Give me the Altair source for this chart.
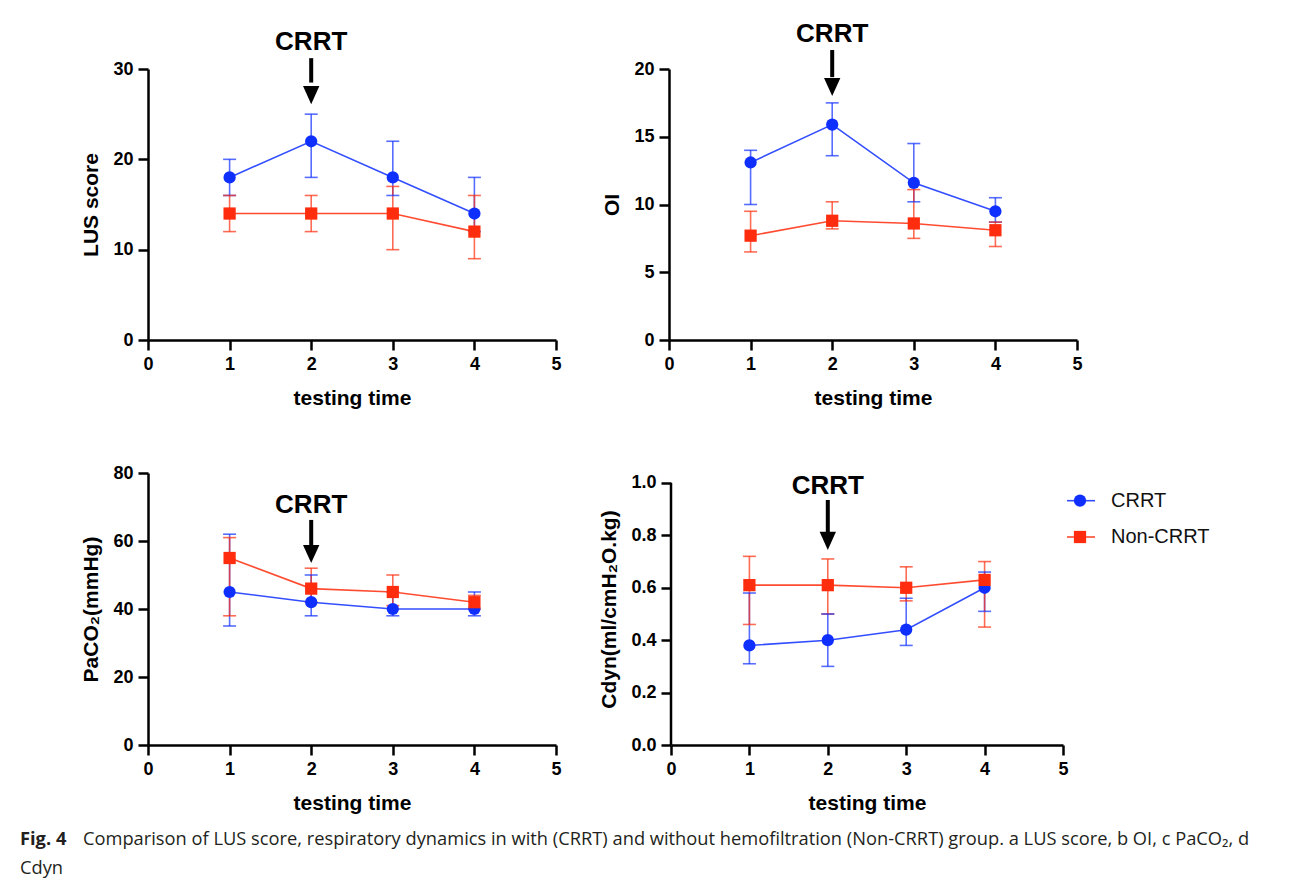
import altair as alt
import pandas as pd

times = [1, 2, 3, 4]
groups = ["CRRT", "Non-CRRT"]
BLUE = "#0f2fff"
RED = "#ff2d0d"

# a  LUS score
lus_crrt = [18, 22, 18, 14]
lus_crrt_lo = [16, 18, 16, 12]
lus_crrt_hi = [20, 25, 22, 18]
lus_non = [14, 14, 14, 12]
lus_non_lo = [12, 12, 10, 9]
lus_non_hi = [16, 16, 17, 16]

# b  OI
oi_crrt = [13.1, 15.9, 11.6, 9.5]
oi_crrt_lo = [10.0, 13.6, 10.2, 8.7]
oi_crrt_hi = [14.0, 17.5, 14.5, 10.5]
oi_non = [7.7, 8.8, 8.6, 8.1]
oi_non_lo = [6.5, 8.2, 7.5, 6.9]
oi_non_hi = [9.5, 10.2, 11.1, 8.7]

# c  PaCO2
pa_crrt = [45, 42, 40, 40]
pa_crrt_lo = [35, 38, 38, 38]
pa_crrt_hi = [62, 50, 45, 45]
pa_non = [55, 46, 45, 42]
pa_non_lo = [38, 42, 41, 40]
pa_non_hi = [61, 52, 50, 44]

# d  Cdyn
cd_crrt = [0.38, 0.40, 0.44, 0.60]
cd_crrt_lo = [0.31, 0.30, 0.38, 0.51]
cd_crrt_hi = [0.58, 0.50, 0.56, 0.66]
cd_non = [0.61, 0.61, 0.60, 0.63]
cd_non_lo = [0.46, 0.50, 0.55, 0.45]
cd_non_hi = [0.72, 0.71, 0.68, 0.70]

caption_bold = "Fig. 4"
caption_line1 = ("Comparison of LUS score, respiratory dynamics in with (CRRT) and without hemofiltration "
                 "(Non-CRRT) group. a LUS score, b OI, c PaCO₂, d")
caption_line2 = "Cdyn"

FONT = "Liberation Sans"


def make_df(c, clo, chi, n, nlo, nhi):
    rows = []
    for g, m, lo, hi in [("CRRT", c, clo, chi), ("Non-CRRT", n, nlo, nhi)]:
        for t, a, b, d in zip(times, m, lo, hi):
            rows.append({"time": t, "group": g, "mean": a, "lo": b, "hi": d})
    return pd.DataFrame(rows)


color = alt.Color("group:N", scale=alt.Scale(domain=groups, range=[BLUE, RED]), legend=None)
shape = alt.Shape("group:N", scale=alt.Scale(domain=groups, range=["circle", "square"]), legend=None)


def panel(df, ytitle, ydom, yvals, fmt, ann, axis_top=None):
    xs = alt.Scale(domain=[0, 5], nice=False)
    ys = alt.Scale(domain=ydom, nice=False)
    xax = alt.Axis(values=[0, 1, 2, 3, 4, 5], title="testing time", format="d")
    if axis_top is None:
        yax = alt.Axis(values=yvals, title=ytitle, format=fmt)
    else:
        yax = alt.Axis(values=yvals, title=ytitle, format=fmt, domain=False)

    def X(f):
        return alt.X(f + ":Q", scale=xs, axis=xax, title="testing time")

    def Y(f):
        return alt.Y(f + ":Q", scale=ys, axis=yax, title=ytitle)

    base = alt.Chart(df)
    line = base.mark_line(strokeWidth=1.6, opacity=0.85).encode(x=X("time"), y=Y("mean"), color=color)
    bars = base.mark_rule(strokeWidth=1.6, opacity=0.7).encode(x=X("time"), y=Y("lo"), y2="hi", color=color)
    cap_lo = base.mark_tick(orient="horizontal", size=13, thickness=1.6, opacity=0.7).encode(
        x=X("time"), y=Y("lo"), color=color)
    cap_hi = base.mark_tick(orient="horizontal", size=13, thickness=1.6, opacity=0.7).encode(
        x=X("time"), y=Y("hi"), color=color)
    pts = base.mark_point(filled=True, size=150, opacity=1).encode(
        x=X("time"), y=Y("mean"), color=color, shape=shape)

    adf = pd.DataFrame([ann])
    ab = alt.Chart(adf)
    txt = ab.mark_text(font=FONT, fontSize=26, fontWeight="bold", baseline="middle", color="black").encode(
        x=X("x"), y=Y("ty"), text="label:N")
    shaft = ab.mark_rule(strokeWidth=4, color="black").encode(x=X("x"), y=Y("a0"), y2="a1")
    head = ab.mark_point(shape="M-0.9,-2L0.9,-2L0,0Z", size=330, filled=True, opacity=1, color="black").encode(
        x=X("x"), y=Y("tip"))
    layers = [bars, cap_lo, cap_hi, line, pts, shaft, head, txt]
    if axis_top is not None:
        ydf = pd.DataFrame({"x0": [0], "y0": [0], "y1": [axis_top]})
        yline = alt.Chart(ydf).mark_rule(strokeWidth=2.5, color="black").encode(
            x=X("x0"), y=Y("y0"), y2="y1")
        layers.append(yline)
    return alt.layer(*layers)


pa = panel(make_df(lus_crrt, lus_crrt_lo, lus_crrt_hi, lus_non, lus_non_lo, lus_non_hi),
           "LUS score", [0, 30], [0, 10, 20, 30], "d",
           {"x": 2, "label": "CRRT", "ty": 32.95, "a0": 31.2, "a1": 28.5, "tip": 26.1}
           ).properties(width=408, height=271)
pb = panel(make_df(oi_crrt, oi_crrt_lo, oi_crrt_hi, oi_non, oi_non_lo, oi_non_hi),
           "OI", [0, 20], [0, 5, 10, 15, 20], "d",
           {"x": 2, "label": "CRRT", "ty": 22.6, "a0": 21.4, "a1": 19.4, "tip": 18.0}
           ).properties(width=408, height=271)
pc = panel(make_df(pa_crrt, pa_crrt_lo, pa_crrt_hi, pa_non, pa_non_lo, pa_non_hi),
           "PaCO₂(mmHg)", [0, 80], [0, 20, 40, 60, 80], "d",
           {"x": 2, "label": "CRRT", "ty": 70.6, "a0": 66.2, "a1": 58.5, "tip": 53.5}
           ).properties(width=408, height=272)
pd_inner = panel(make_df(cd_crrt, cd_crrt_lo, cd_crrt_hi, cd_non, cd_non_lo, cd_non_hi),
                 "Cdyn(ml/cmH₂O.kg)", [0, 1.038], [0, 0.2, 0.4, 0.6, 0.8, 1.0], ".1f",
                 {"x": 2, "label": "CRRT", "ty": 0.99, "a0": 0.935, "a1": 0.81, "tip": 0.744},
                 axis_top=1.0)

# legend (drawn to the right of panel d)
legend_y = [1, 2]
ldf = pd.DataFrame({"group": groups, "ly": legend_y})
ly = alt.Scale(domain=[0.237, 7.73], nice=False, zero=False, reverse=True)
lb = alt.Chart(ldf)
leg_line = lb.mark_rule(strokeWidth=1.6, opacity=0.85).encode(
    x=alt.value(396), x2=alt.value(424), y=alt.Y("ly:Q", scale=ly, axis=None), color=color)
leg_pt = lb.mark_point(filled=True, size=150, opacity=1).encode(
    x=alt.value(409), y=alt.Y("ly:Q", scale=ly, axis=None), color=color, shape=shape)
leg_txt = lb.mark_text(align="left", baseline="middle", font=FONT, fontSize=20, color="#111").encode(
    x=alt.value(440), y=alt.Y("ly:Q", scale=ly, axis=None), text="group:N")
legend = alt.layer(leg_line, leg_pt, leg_txt)

pd_ = alt.layer(pd_inner, legend).resolve_scale(y="independent").properties(width=392, height=272)

# caption
cap_df = pd.DataFrame({
    "row": [1, 1, 2],
    "part": [caption_bold, caption_line1, caption_line2],
    "kind": ["bold", "rest", "rest2"],
})
cy = alt.Scale(domain=[0.5, 2.5], nice=False, zero=False, reverse=True)
cb = alt.Chart(cap_df)
CAPFONT = "Open Sans"
cap_bold = cb.transform_filter("datum.kind == 'bold'").mark_text(
    align="left", baseline="middle", font=CAPFONT, fontSize=18.3, fontWeight="bold", color="#231f20").encode(
    x=alt.value(-128), y=alt.Y("row:Q", axis=None, scale=cy), text="part:N")
cap_norm1 = cb.transform_filter("datum.kind == 'rest'").mark_text(
    align="left", baseline="middle", font=CAPFONT, fontSize=18.3, color="#231f20").encode(
    x=alt.value(-65), y=alt.Y("row:Q", axis=None, scale=cy), text="part:N")
cap_norm2 = cb.transform_filter("datum.kind == 'rest2'").mark_text(
    align="left", baseline="middle", font=CAPFONT, fontSize=18.3, color="#231f20").encode(
    x=alt.value(-128), y=alt.Y("row:Q", axis=None, scale=cy), text="part:N")
caption = alt.layer(cap_bold, cap_norm1, cap_norm2).properties(width=1000, height=58)

row1 = alt.hconcat(pa, pb, spacing=39)
row2 = alt.hconcat(pc, pd_, spacing=36)
plots = alt.vconcat(row1, row2, spacing=56)
chart = alt.vconcat(plots, caption, spacing=12).properties(
    padding={"left": 12, "top": 12, "right": 5, "bottom": 5}
).configure_view(stroke=None).configure_axis(
    domainColor="black", domainWidth=2.5, tickColor="black", tickWidth=2.5, tickSize=10,
    labelFont=FONT, labelFontSize=18, labelFontWeight="bold", labelColor="black", labelPadding=5,
    titleFont=FONT, titleFontSize=21, titleFontWeight="bold", titleColor="black", grid=False,
    labelFlush=False, labelOverlap=False
).configure_axisX(titlePadding=14).configure_axisY(titlePadding=11)

chart.save("out.html", embed_options={"renderer": "svg", "actions": False})
